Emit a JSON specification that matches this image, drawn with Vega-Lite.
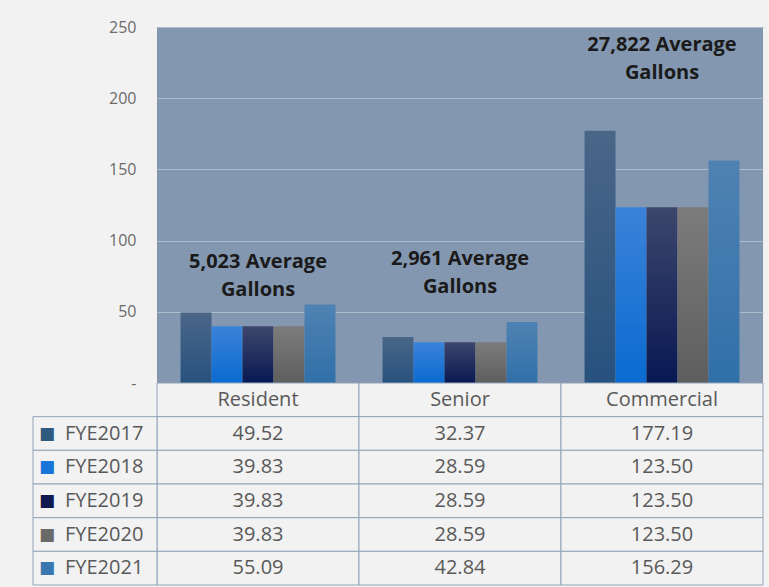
{
  "$schema": "https://vega.github.io/schema/vega-lite/v6.json",
  "autosize": {"type": "none"},
  "width": 606,
  "height": 558,
  "padding": {"left": 157, "top": 27, "right": 6, "bottom": 2},
  "background": "#f2f2f2",
  "config": {
    "view": {"stroke": null, "fill": "#8497b0"},
    "font": "Open Sans",
    "text": {"font": "Open Sans"}
  },
  "datasets": {
    "bars": [
      {"category": "Resident", "year": "FYE2017", "value": 49.52},
      {"category": "Resident", "year": "FYE2018", "value": 39.83},
      {"category": "Resident", "year": "FYE2019", "value": 39.83},
      {"category": "Resident", "year": "FYE2020", "value": 39.83},
      {"category": "Resident", "year": "FYE2021", "value": 55.09},
      {"category": "Senior", "year": "FYE2017", "value": 32.37},
      {"category": "Senior", "year": "FYE2018", "value": 28.59},
      {"category": "Senior", "year": "FYE2019", "value": 28.59},
      {"category": "Senior", "year": "FYE2020", "value": 28.59},
      {"category": "Senior", "year": "FYE2021", "value": 42.84},
      {"category": "Commercial", "year": "FYE2017", "value": 177.19},
      {"category": "Commercial", "year": "FYE2018", "value": 123.50},
      {"category": "Commercial", "year": "FYE2019", "value": 123.50},
      {"category": "Commercial", "year": "FYE2020", "value": 123.50},
      {"category": "Commercial", "year": "FYE2021", "value": 156.29}
    ],
    "notes": [
      {"category": "Resident", "note": ["5,023 Average", "Gallons"], "at": 85},
      {"category": "Senior", "note": ["2,961 Average", "Gallons"], "at": 87},
      {"category": "Commercial", "note": ["27,822 Average", "Gallons"], "at": 237.3}
    ],
    "header": [
      {"category": "Resident", "row": "header"},
      {"category": "Senior", "row": "header"},
      {"category": "Commercial", "row": "header"}
    ]
  },
  "resolve": {"scale": {"x": "independent", "y": "independent"}},
  "layer": [
    {
      "data": {"name": "bars"},
      "encoding": {
        "x": {"field": "category", "type": "nominal", "axis": null,
              "scale": {"domain": ["Resident", "Senior", "Commercial"], "paddingInner": 0, "paddingOuter": 0}},
        "xOffset": {"field": "year", "type": "nominal",
                    "scale": {"domain": ["FYE2017", "FYE2018", "FYE2019", "FYE2020", "FYE2021"], "paddingInner": 0, "paddingOuter": 0.76}},
        "y": {"field": "value", "type": "quantitative",
              "scale": {"domain": [0, 250], "range": [356, 0], "nice": false},
              "axis": {"values": [0, 50, 100, 150, 200, 250], "labelExpr": "datum.value == 0 ? '-' : datum.label",
                       "domain": false, "ticks": false, "labelPadding": 21, "labelFontSize": 16,
                       "labelColor": "#6b6b6b", "labelFont": "Open Sans", "title": null,
                       "gridColor": "#b0bccc", "gridWidth": 1.2}}
      },
      "layer": [
        {
          "transform": [{"filter": "datum.year == 'FYE2017'"}],
          "mark": {"type": "bar", "fill": {"gradient": "linear", "x1": 0, "y1": 0, "x2": 0, "y2": 1,
                   "stops": [{"offset": 0, "color": "#4a6688"}, {"offset": 1, "color": "#27527e"}]}}
        },
        {
          "transform": [{"filter": "datum.year == 'FYE2018'"}],
          "mark": {"type": "bar", "fill": {"gradient": "linear", "x1": 0, "y1": 0, "x2": 0, "y2": 1,
                   "stops": [{"offset": 0, "color": "#3b82d9"}, {"offset": 1, "color": "#0a6bd0"}]}}
        },
        {
          "transform": [{"filter": "datum.year == 'FYE2019'"}],
          "mark": {"type": "bar", "fill": {"gradient": "linear", "x1": 0, "y1": 0, "x2": 0, "y2": 1,
                   "stops": [{"offset": 0, "color": "#3d466c"}, {"offset": 1, "color": "#081852"}]}}
        },
        {
          "transform": [{"filter": "datum.year == 'FYE2020'"}],
          "mark": {"type": "bar", "fill": {"gradient": "linear", "x1": 0, "y1": 0, "x2": 0, "y2": 1,
                   "stops": [{"offset": 0, "color": "#7c7c7c"}, {"offset": 1, "color": "#5e5e5e"}]}}
        },
        {
          "transform": [{"filter": "datum.year == 'FYE2021'"}],
          "mark": {"type": "bar", "fill": {"gradient": "linear", "x1": 0, "y1": 0, "x2": 0, "y2": 1,
                   "stops": [{"offset": 0, "color": "#4f82b3"}, {"offset": 1, "color": "#3070a8"}]}}
        },
        {
          "data": {"name": "notes"},
          "mark": {"type": "text", "fontSize": 20, "fontWeight": "bold", "color": "#1a1a1a", "lineHeight": 28, "baseline": "middle", "align": "center"},
          "encoding": {
            "xOffset": null,
            "y": {"field": "at", "type": "quantitative"},
            "text": {"field": "note"}
          }
        }
      ]
    },
    {
      "layer": [
        {
          "data": {"name": "header"},
          "mark": {"type": "rect", "fill": "#f2f2f2", "stroke": "#92a3ba", "strokeWidth": 1},
          "encoding": {
            "x": {"field": "category", "type": "nominal", "axis": null,
                  "scale": {"domain": ["Resident", "Senior", "Commercial"], "paddingInner": 0, "paddingOuter": 0}},
            "y": {"field": "row", "type": "nominal", "axis": null,
                  "scale": {"domain": ["header", "FYE2017", "FYE2018", "FYE2019", "FYE2020", "FYE2021"], "range": [356, 558], "paddingInner": 0, "paddingOuter": 0}}
          }
        },
        {
          "data": {"name": "header"},
          "mark": {"type": "text", "fontSize": 20, "color": "#595959", "baseline": "middle"},
          "encoding": {
            "x": {"field": "category", "type": "nominal", "axis": null},
            "y": {"field": "row", "type": "nominal", "axis": null},
            "text": {"field": "category"}
          }
        },
        {
          "data": {"name": "bars"},
          "mark": {"type": "rect", "fill": "#f2f2f2", "stroke": "#92a3ba", "strokeWidth": 1},
          "encoding": {
            "x": {"field": "category", "type": "nominal", "axis": null},
            "y": {"field": "year", "type": "nominal", "axis": null}
          }
        },
        {
          "data": {"name": "bars"},
          "mark": {"type": "text", "fontSize": 20, "color": "#595959", "baseline": "middle"},
          "encoding": {
            "x": {"field": "category", "type": "nominal", "axis": null},
            "y": {"field": "year", "type": "nominal", "axis": null},
            "text": {"field": "value", "type": "quantitative", "format": ".2f"}
          }
        }
      ]
    },
    {
      "data": {"name": "bars"},
      "transform": [{"filter": "datum.category == 'Resident'"}],
      "layer": [
        {
          "mark": {"type": "rect", "fill": "#f2f2f2", "stroke": "#92a3ba", "strokeWidth": 1},
          "encoding": {
            "x": {"datum": "legend", "type": "nominal", "axis": null,
                  "scale": {"domain": ["legend"], "range": [-124, 0], "paddingInner": 0, "paddingOuter": 0}},
            "y": {"field": "year", "type": "nominal", "axis": null,
                  "scale": {"domain": ["header", "FYE2017", "FYE2018", "FYE2019", "FYE2020", "FYE2021"], "range": [356, 558], "paddingInner": 0, "paddingOuter": 0}}
          }
        },
        {
          "mark": {"type": "text", "text": "■", "font": "DejaVu Sans", "fontSize": 17, "baseline": "middle", "align": "center", "dx": -48},
          "encoding": {
            "x": {"datum": "legend", "type": "nominal", "axis": null},
            "y": {"field": "year", "type": "nominal", "axis": null},
            "color": {"field": "year", "type": "nominal", "legend": null,
                      "scale": {"domain": ["FYE2017", "FYE2018", "FYE2019", "FYE2020", "FYE2021"],
                                "range": ["#2e5a80", "#1874d6", "#0f1a50", "#6a6a6a", "#3a76b0"]}}
          }
        },
        {
          "mark": {"type": "text", "fontSize": 20, "color": "#595959", "baseline": "middle", "align": "left", "dx": -30},
          "encoding": {
            "x": {"datum": "legend", "type": "nominal", "axis": null},
            "y": {"field": "year", "type": "nominal", "axis": null},
            "text": {"field": "year"}
          }
        }
      ]
    }
  ]
}
